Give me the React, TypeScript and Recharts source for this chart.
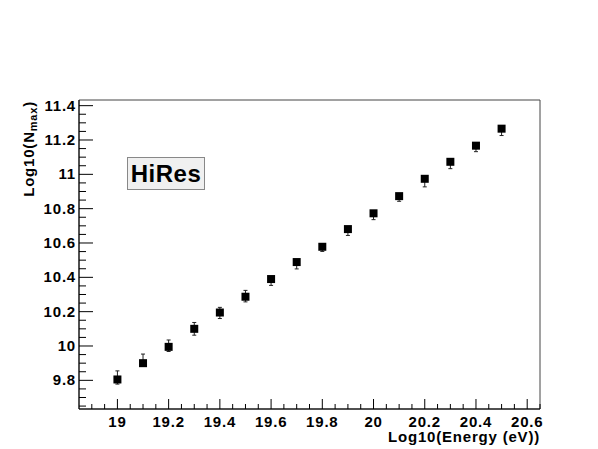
import React from "react"
import {
  ScatterChart,
  Scatter,
  XAxis,
  YAxis,
  ErrorBar,
  ReferenceArea,
  Label,
} from "recharts"

// log10 energy (eV) of each bin
const energies = [
  19, 19.1, 19.2, 19.3, 19.4, 19.5, 19.6, 19.7, 19.8, 19.9, 20, 20.1, 20.2, 20.3, 20.4, 20.5,
]
// log10(Nmax) per bin
const nmax = [
  9.805, 9.9, 9.995, 10.1, 10.195, 10.287, 10.39, 10.489, 10.578, 10.681, 10.773, 10.873,
  10.974, 11.073, 11.167, 11.266,
]
const errDown = [
  0.027, 0.01, 0.027, 0.037, 0.035, 0.03, 0.037, 0.04, 0.027, 0.037, 0.037, 0.03, 0.047,
  0.04, 0.035, 0.04,
]
const errUp = [0.05, 0.053, 0.04, 0.037, 0.03, 0.037, 0, 0, 0.01, 0, 0, 0, 0, 0, 0, 0]

const xMajor = [19, 19.2, 19.4, 19.6, 19.8, 20, 20.2, 20.4, 20.6]
const yMajor = [9.8, 10, 10.2, 10.4, 10.6, 10.8, 11, 11.2, 11.4]

const X_DOMAIN: [number, number] = [18.85, 20.65]
const Y_DOMAIN: [number, number] = [9.633, 11.433]

const FONT = "'Liberation Sans', Arial, Helvetica, sans-serif"
const SPACING = 0.8

// minor ticks every 0.05 between the majors
const minorTicks = (lo: number, hi: number) => {
  const out: number[] = []
  for (let i = Math.ceil(lo * 20); i <= Math.floor(hi * 20); i++) {
    out.push(Math.round(i * 5) / 100)
  }
  return out
}
const xTicks = minorTicks(18.9, 20.65)
const yTicks = minorTicks(9.65, 11.4)

const isMajor = (v: number, majors: number[]) => majors.some((m) => Math.abs(m - v) < 1e-6)

const data = energies.map((e, i) => ({
  e,
  n: nmax[i],
  err: [errDown[i], errUp[i]],
}))

const XTick = ({ x, y, payload }: any) => {
  const major = isMajor(payload.value, xMajor)
  return (
    <g>
      <line x1={x} x2={x} y1={y} y2={y - (major ? 10 : 5)} stroke="#000" />
      {major && (
        <text
          x={x}
          y={y + 18}
          textAnchor="middle"
          fontSize={15}
          fontWeight="bold"
          fontFamily={FONT}
          letterSpacing={SPACING}
          fill="#000"
        >
          {payload.value}
        </text>
      )}
    </g>
  )
}

const YTick = ({ x, y, payload }: any) => {
  const major = isMajor(payload.value, yMajor)
  return (
    <g>
      <line x1={x} x2={x + (major ? 14 : 7)} y1={y} y2={y} stroke="#000" />
      {major && (
        <text
          x={x - 3}
          y={y + 5}
          textAnchor="end"
          fontSize={15}
          fontWeight="bold"
          fontFamily={FONT}
          letterSpacing={SPACING}
          fill="#000"
        >
          {payload.value}
        </text>
      )}
    </g>
  )
}

const Marker = ({ cx, cy }: any) => (
  <rect x={cx - 4} y={cy - 4} width={8} height={8} fill="#000" />
)

export default function App() {
  return (
    <div style={{ position: "relative", width: 598, height: 449, background: "#fff" }}>
      <style>{"body{margin:0}"}</style>
      <ScatterChart
        width={598}
        height={449}
        margin={{ top: 100, right: 58, left: 29, bottom: 10 }}
      >
        <XAxis
          dataKey="e"
          type="number"
          domain={X_DOMAIN}
          allowDataOverflow
          ticks={xTicks}
          interval={0}
          tickSize={0}
          tickMargin={0}
          tickLine={false}
          tick={<XTick />}
          height={30}
          axisLine={{ stroke: "#000" }}
        >
          <Label
            content={({ viewBox }: any) => (
              <text
                x={viewBox.x + viewBox.width}
                y={viewBox.y + 33}
                textAnchor="end"
                fontSize={15}
                fontWeight="bold"
                fontFamily={FONT}
                letterSpacing={SPACING}
                fill="#000"
              >
                Log10(Energy (eV))
              </text>
            )}
          />
        </XAxis>
        <YAxis
          dataKey="n"
          type="number"
          domain={Y_DOMAIN}
          allowDataOverflow
          ticks={yTicks}
          interval={0}
          tickSize={0}
          tickMargin={0}
          tickLine={false}
          tick={<YTick />}
          width={50}
          axisLine={{ stroke: "#000" }}
        >
          <Label
            content={({ viewBox }: any) => (
              <text
                transform={`translate(${viewBox.x + 5}, ${viewBox.y + 1}) rotate(-90)`}
                textAnchor="end"
                fontSize={15}
                fontWeight="bold"
                fontFamily={FONT}
                letterSpacing={SPACING}
                fill="#000"
              >
                Log10(N
                <tspan fontSize={11} dy={3}>max</tspan>
                <tspan dy={-3}>)</tspan>
              </text>
            )}
          />
        </YAxis>
        <ReferenceArea
          x1={X_DOMAIN[0]}
          x2={X_DOMAIN[1]}
          y1={Y_DOMAIN[0]}
          y2={Y_DOMAIN[1]}
          fill="none"
          stroke="#444"
          strokeWidth={1}
          ifOverflow="visible"
        />
        <Scatter data={data} shape={<Marker />} isAnimationActive={false}>
          <ErrorBar dataKey="err" direction="y" width={2} stroke="#222" strokeWidth={1} />
        </Scatter>
      </ScatterChart>
      <div
        style={{
          position: "absolute",
          left: 127,
          top: 157,
          width: 76,
          height: 31,
          background: "#f0f0f0",
          border: "1px solid #888",
          fontFamily: FONT,
          fontWeight: "bold",
          fontSize: 24,
          letterSpacing: 0.5,
          lineHeight: "31px",
          textAlign: "center",
          color: "#000",
        }}
      >
        HiRes
      </div>
    </div>
  )
}
